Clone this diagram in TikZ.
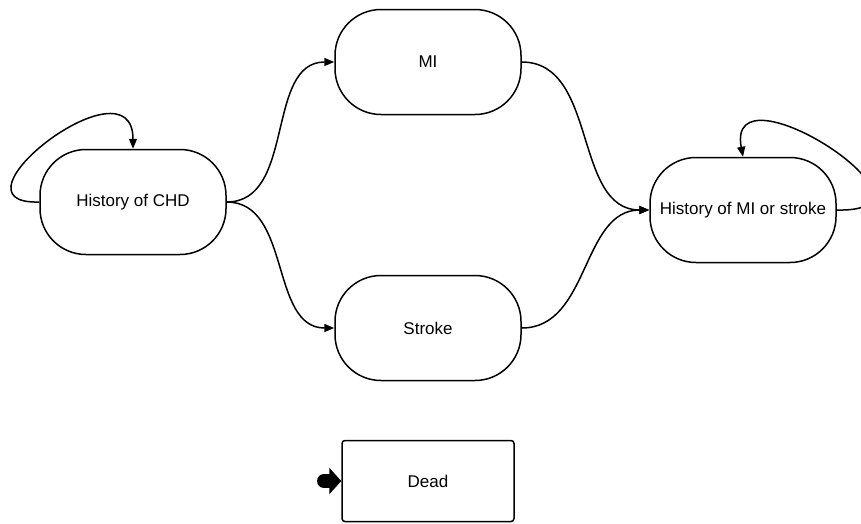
\documentclass[tikz,border=0pt]{standalone}
\usepackage{fontspec}
\setmainfont{Liberation Sans}
\usetikzlibrary{arrows.meta, positioning}

\begin{document}
\begin{tikzpicture}[x=1pt,y=-1pt,line width=1.5pt,-{Triangle[length=10pt,width=8pt]}]
    \tikzstyle{state}=[draw, rounded corners=46pt, minimum width=186pt, minimum height=105pt, inner sep=0pt, font=\fontsize{17}{20}\selectfont]
    \tikzstyle{absorb}=[draw, rounded corners=3pt, minimum width=172pt, minimum height=81pt, inner sep=0pt, font=\fontsize{17}{20}\selectfont]
    \tikzstyle{entry}=[line width=14pt, line cap=round, -{Triangle[length=12pt,width=26pt]}]

    \useasboundingbox (0,0) rectangle (861,523);

    \node[state] (chd) at (133,202) {History of CHD};
    \node[state] (mi) at (428,62) {MI};
    \node[state] (stroke) at (428,328) {Stroke};
    \node[state] (hist) at (743,210) {History of MI or stroke};
    \node[absorb] (dead) at (428,481) {Dead};

    \path (chd.east) edge[out=0,in=180] (mi.west);
    \path (chd.east) edge[out=0,in=180] (stroke.west);
    \path (mi.east) edge[out=0,in=180] (hist.west);
    \path (stroke.east) edge[out=0,in=180] (hist.west);

%   staying in the same state
    \draw (chd.west) .. controls (-60,205) and (133,55) .. (chd.north);
    \draw (hist.east) .. controls (960,213) and (725,60) .. (hist.north);

    \coordinate (deadin) at (324,481);
    \draw[entry] (deadin) -- (dead.west);
\end{tikzpicture}
\end{document}
